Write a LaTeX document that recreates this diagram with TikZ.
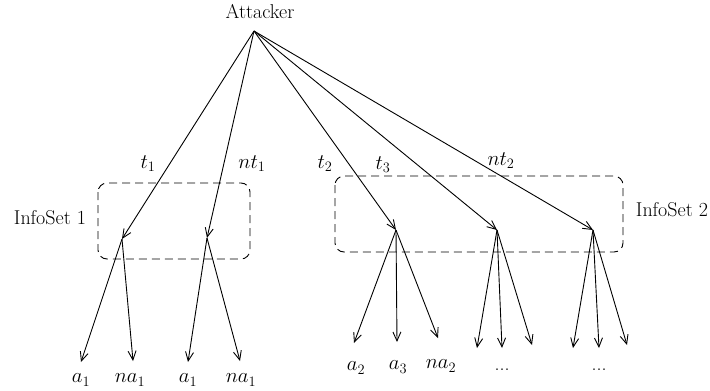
\documentclass[tikz,border=0pt]{standalone}
\usepackage{amsmath}
\usetikzlibrary{arrows.meta}
\newcommand{\labelSize}[0]{\fontsize{20}{24}\selectfont}
\newcommand{\dashOn}[0]{8pt}
\newcommand{\dashOff}[0]{5pt}

\begin{document}
\begin{tikzpicture}[x=1pt, y=-1pt, line width=0.9pt]
  \tikzset{every node/.style={font=\labelSize, inner sep=1pt},
    move/.style={-{Straight Barb[length=9pt,width=8pt]}},
    infoset/.style={dash pattern=on \dashOn off \dashOff, rounded corners=9pt}}
  \useasboundingbox (0,0) rectangle (710,391);

  % attacker and the decision points
  \node (attacker) at (260,12) {Attacker};
  \coordinate (root) at (254,31);
  \coordinate (n1) at (122,239);
  \coordinate (n2) at (207,238);
  \coordinate (n3) at (396,230);
  \coordinate (n4) at (497,230);
  \coordinate (n5) at (593,230);

  % information sets
  \draw[infoset] (98,183) rectangle (250,259);
  \draw[infoset] (335,176) rectangle (623,252);
  \node (info1) at (50,218) {InfoSet 1};
  \node (info2) at (672,210) {InfoSet 2};

  % first moves
  \foreach \n in {n1,n2,n3,n4,n5}
    \draw[move] (root) -- (\n);
  \node (t1) at (148,164) {$t_1$};
  \node (nt1) at (252,164) {$nt_1$};
  \node (t2) at (325,164) {$t_2$};
  \node (t3) at (383,165) {$t_3$};
  \node (nt2) at (501,161) {$nt_2$};

  % end points of the second moves
  \coordinate (l11) at (81,362);
  \coordinate (l12) at (133,361);
  \coordinate (l21) at (188,362);
  \coordinate (l22) at (240,361);
  \coordinate (l31) at (354,343);
  \coordinate (l32) at (397,342);
  \coordinate (l33) at (438,338);
  \coordinate (l41) at (477,348);
  \coordinate (l42) at (502,348);
  \coordinate (l43) at (532,345);
  \coordinate (l51) at (573,348);
  \coordinate (l52) at (599,348);
  \coordinate (l53) at (627,345);

  \draw[move] (n1) -- (l11);
  \draw[move] (n1) -- (l12);
  \draw[move] (n2) -- (l21);
  \draw[move] (n2) -- (l22);
  \foreach \n in {3,4,5}
    \foreach \k in {1,2,3}
      \draw[move] (n\n) -- (l\n\k);

  % actions
  \node (a11) at (81,380) {$a_1$};
  \node (na11) at (130,380) {$na_1$};
  \node (a12) at (188,380) {$a_1$};
  \node (na12) at (241,380) {$na_1$};
  \node (a2) at (356,368) {$a_2$};
  \node (a3) at (398,367) {$a_3$};
  \node (na2) at (441,366) {$na_2$};
  \node (more4) at (502,370) {...};
  \node (more5) at (599,370) {...};
\end{tikzpicture}
\end{document}
